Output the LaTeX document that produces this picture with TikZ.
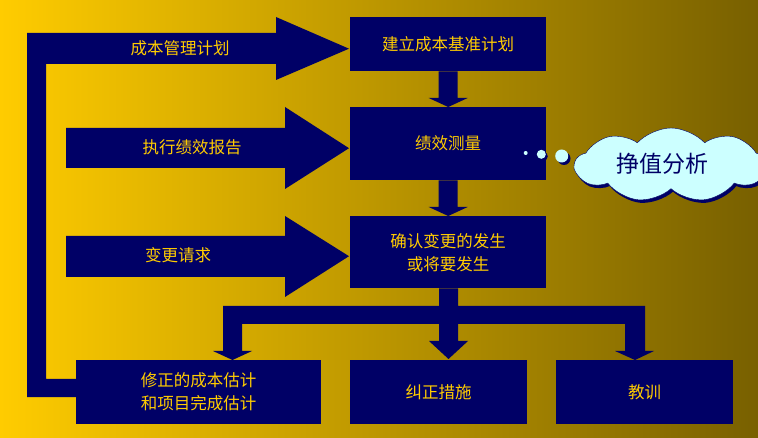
\documentclass[tikz,border=0pt]{standalone}
\usepackage{fontspec}
\newfontfamily\cjk{Noto Sans CJK SC}
\usetikzlibrary{shapes.symbols,calc}
\definecolor{navyc}{RGB}{0,0,102}
\definecolor{yel}{RGB}{255,204,0}
\definecolor{cyanc}{RGB}{204,255,255}
\definecolor{bgL}{RGB}{255,204,0}
\definecolor{bgM}{RGB}{208,166,0}
\definecolor{bgR}{RGB}{120,96,0}
\begin{document}
\begin{tikzpicture}[x=1pt,y=-1pt,
  box/.style={fill=navyc,text=yel,font=\cjk\fontsize{16.5}{23}\selectfont,align=center,inner sep=0pt,anchor=north west},
  lbl/.style={text=yel,font=\cjk\fontsize{16.5}{23}\selectfont,inner sep=0pt},
  blk/.style={fill=navyc},
  cl/.style={cloud,cloud puffs=9,cloud puff arc=95,aspect=2.6,minimum width=192pt,minimum height=74pt,inner sep=0pt},
  bub/.style={fill=cyanc}]
\useasboundingbox (0,0) rectangle (758,438);
\shade[left color=bgL,middle color=bgM,right color=bgR] (0,0) rectangle (758,438);

% boxes
\node[box,minimum width=196pt,minimum height=54pt] (b1) at (350,17) {建立成本基准计划};
\node[box,minimum width=196pt,minimum height=73pt] (b2) at (350,107) {绩效测量};
\node[box,minimum width=196pt,minimum height=72pt] (b3) at (350,216) {确认变更的发生\\或将要发生};
\node[box,minimum width=245pt,minimum height=64pt] (b4) at (76,360) {修正的成本估计\\和项目完成估计};
\node[box,minimum width=177pt,minimum height=64pt] (b5) at (350,360) {纠正措施};
\node[box,minimum width=177pt,minimum height=64pt] (b6) at (556,360) {教训};

% tip coordinates
\coordinate (t1) at ($(b1.west)+(-1,4.5)$);
\coordinate (t2) at ($(b2.west)+(-1,4.5)$);
\coordinate (t3) at ($(b3.west)+(-1,4)$);

% vertical block arrows
\fill[blk] ($(b1.south)+(-9.5,0)$) -- ($(b2.north)+(-9.5,-9)$) -- ($(b2.north)+(-19.5,-9)$) -- (b2.north)
  -- ($(b2.north)+(19.5,-9)$) -- ($(b2.north)+(9.5,-9)$) -- ($(b1.south)+(9.5,0)$) -- cycle;
\fill[blk] ($(b2.south)+(-9.5,0)$) -- ($(b3.north)+(-9.5,-9)$) -- ($(b3.north)+(-19.5,-9)$) -- (b3.north)
  -- ($(b3.north)+(19.5,-9)$) -- ($(b3.north)+(9.5,-9)$) -- ($(b2.south)+(9.5,0)$) -- cycle;

% branching tree from b3
\fill[blk] ($(b3.south)+(-9,0)$) -- (439,306) -- (223,306) -- (223,351) -- (213,351) -- (232.5,360)
  -- (252,351) -- (242,351) -- (242,324) -- (439,324) -- (439,341) -- (429,341) -- (448.5,359)
  -- (468,341) -- (458,341) -- (458,324) -- (625,324) -- (625,351) -- (615,351) -- (635,360)
  -- (654,351) -- (645,351) -- (645,306) -- (458,306) -- ($(b3.south)+(10,0)$) -- cycle;

% feedback loop into b1
\fill[blk] (27,33) -- (276,33) -- (276,17) -- (t1) -- (276,80) -- (276,64) -- (46,64)
  -- (46,379) -- ($(b4.west|-0,379)+(2,0)$) -- ($(b4.west|-0,397)+(2,0)$) -- (27,397) -- cycle;

% input arrows
\fill[blk] (66,128) -- (285,128) -- (285,107) -- (t2) -- (285,189) -- (285,168) -- (66,168) -- cycle;
\fill[blk] (66,236) -- (285,236) -- (285,216) -- (t3) -- (285,297) -- (285,277) -- (66,277) -- cycle;

% labels
\node[lbl] (l1) at (180,48) {成本管理计划};
\node[lbl] (l2) at (192,147) {执行绩效报告};
\node[lbl] (l3) at (178,255) {变更请求};

% thought bubbles
\fill[blk] (527.5,154.5) circle (2);
\fill[bub] (525.7,153) circle (2);
\fill[blk] (543.3,156.3) circle (4.5);
\fill[bub] (541.3,154.3) circle (4.5);
\fill[blk] (564,158.5) circle (6.5);
\fill[bub] (561.7,156) circle (6.5);

% cloud
\node[cl,fill=navyc] (cs) at (673,168) {};
\node[cl,fill=cyanc,draw=navyc,line width=0.4pt] (cloud) at (671,165) {};
\node[text=navyc,font=\cjk\fontsize{23}{23}\selectfont,inner sep=0pt] (ev) at (662,164) {挣值分析};
\end{tikzpicture}
\end{document}
